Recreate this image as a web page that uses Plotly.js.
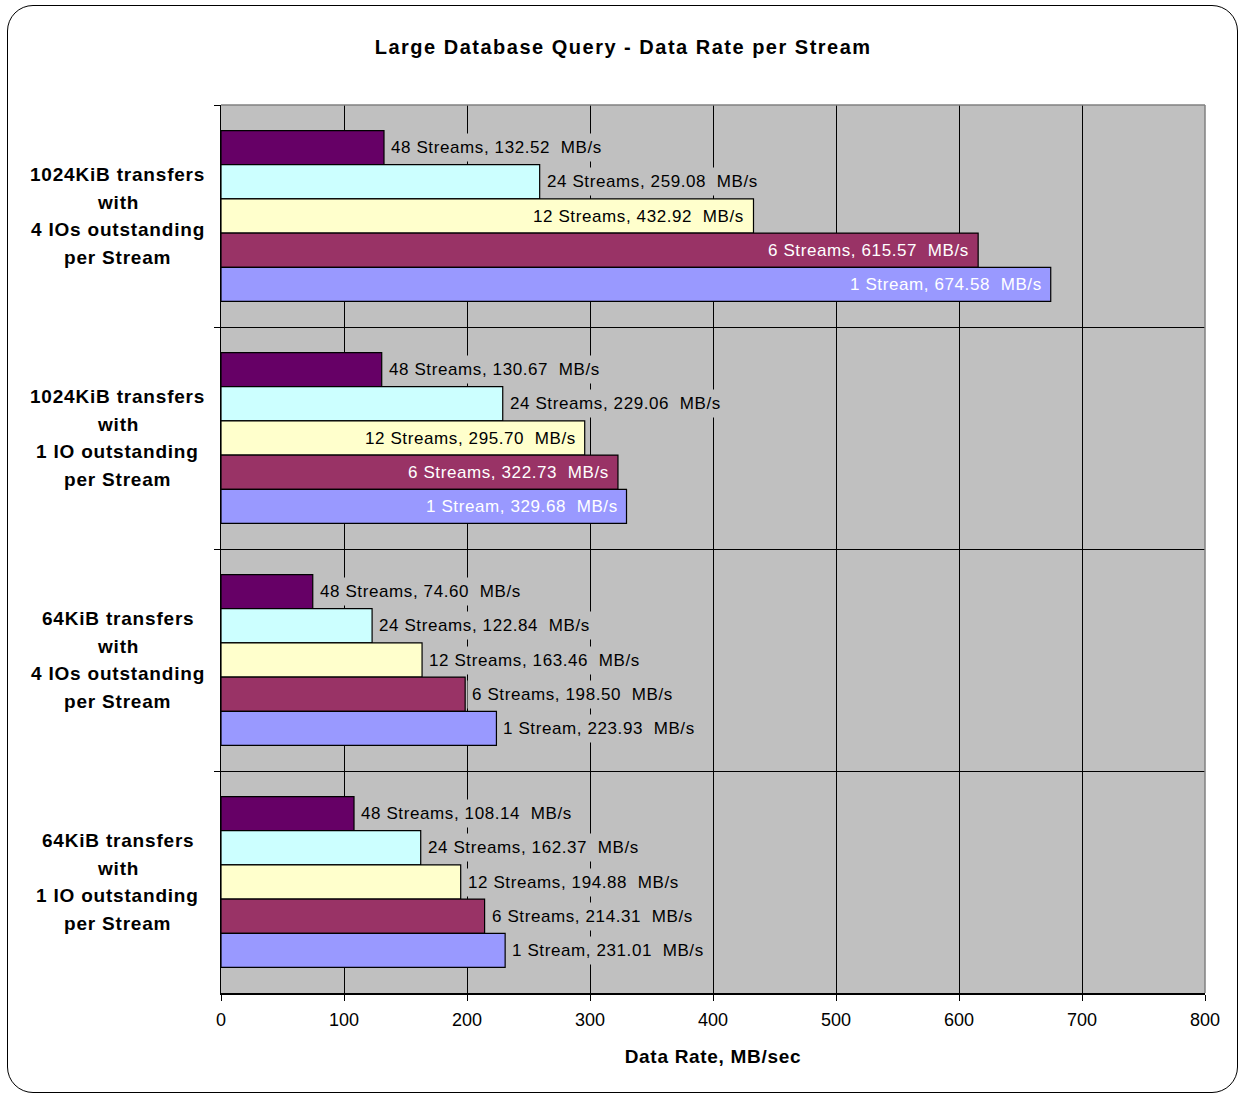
<!DOCTYPE html>
<html>
<head>
<meta charset="utf-8">
<script src="https://cdn.plot.ly/plotly-3.0.1.min.js"></script>
<style>
  html, body { margin: 0; padding: 0; background: #fff; }
  #wrap { position: relative; width: 1239px; height: 1095px; }
  #chart { position: absolute; left: 0; top: 0; width: 1239px; height: 1095px; }
  #frame { position: absolute; left: 7px; top: 5px; width: 1229px; height: 1086px;
           border: 1.5px solid #000; border-radius: 26px; pointer-events: none; }
</style>
</head>
<body>
<div id="wrap">
  <div id="chart"></div>
  <div id="frame"></div>
</div>
<script>
// ---- data ----
const categories = [
  "1024KiB transfers<br>with<br>4 IOs outstanding<br>per Stream",
  "1024KiB transfers<br>with<br>1 IO outstanding<br>per Stream",
  "64KiB transfers<br>with<br>4 IOs outstanding<br>per Stream",
  "64KiB transfers<br>with<br>1 IO outstanding<br>per Stream"
];
const seriesNames = ["48 Streams", "24 Streams", "12 Streams", "6 Streams", "1 Stream"];
const streams48 = [132.52, 130.67, 74.60, 108.14];
const streams24 = [259.08, 229.06, 122.84, 162.37];
const streams12 = [432.92, 295.70, 163.46, 194.88];
const streams6  = [615.57, 322.73, 198.50, 214.31];
const streams1  = [674.58, 329.68, 223.93, 231.01];
const xTicks = [0, 100, 200, 300, 400, 500, 600, 700, 800];

// ---- styles ----
const seriesValues = [streams48, streams24, streams12, streams6, streams1];
const seriesColors = ["#660066", "#CCFFFF", "#FFFFCC", "#993366", "#9999FF"];
const insideTextColors = ["#000", "#000", "#000", "#fff", "#fff"];
const FONT = "Liberation Sans, Arial, sans-serif";
const BARGAP = 0.23;
const nS = seriesNames.length;
const catIdx = categories.map((_, i) => i);
const spaced = (t, px) => '<span style="letter-spacing:' + px + 'px">' + t + '</span>';

const traces = seriesValues.map((vals, i) => ({
  type: "bar",
  orientation: "h",
  name: seriesNames[i],
  x: vals,
  y: catIdx,
  marker: { color: seriesColors[i], line: { color: "#000", width: 1.2 } },
  hoverinfo: "x+name"
}));

const annotations = [];
const slot = (1 - BARGAP) / nS;
seriesValues.forEach((vals, i) => {
  vals.forEach((v, c) => {
    const txt = spaced(seriesNames[i] + ", " + v.toFixed(2) + "\u00a0\u00a0MB/s", 0.6);
    const yPos = c + (i - (nS - 1) / 2) * slot;
    if (v > 280) {
      annotations.push({
        x: v, y: yPos, xref: "x", yref: "y", text: txt, showarrow: false,
        xanchor: "right", yanchor: "middle", xshift: -7,
        font: { family: FONT, size: 17, color: insideTextColors[i] }
      });
    } else {
      annotations.push({
        x: v, y: yPos, xref: "x", yref: "y", text: txt, showarrow: false,
        xanchor: "left", yanchor: "middle", xshift: 2,
        bgcolor: "#C0C0C0", borderpad: 4,
        font: { family: FONT, size: 17, color: "#000" }
      });
    }
  });
});

categories.forEach((cat, c) => {
  const lines = cat.split("<br>");
  lines.forEach((ln, j) => {
    annotations.push({
      x: -0.105, y: c, xref: "paper", yref: "y", text: spaced(ln, 0.8), showarrow: false,
      xanchor: "center", yanchor: "middle",
      yshift: ((lines.length - 1) / 2 - j) * 27.5,
      font: { family: FONT, size: 19, color: "#000", weight: "bold" }
    });
  });
});

const layout = {
  width: 1239, height: 1095,
  margin: { l: 221, r: 34, t: 105, b: 102 },
  paper_bgcolor: "#fff",
  plot_bgcolor: "#C0C0C0",
  showlegend: false,
  barmode: "group",
  bargap: BARGAP,
  bargroupgap: 0,
  font: { family: FONT, color: "#000" },
  title: {
    text: spaced("Large Database Query - Data Rate per Stream", 1.5),
    font: { family: FONT, size: 20, color: "#000", weight: "bold" },
    x: 0.503, xref: "container", xanchor: "center",
    y: 1 - 47 / 1095, yref: "container", yanchor: "middle"
  },
  xaxis: {
    range: [0, 800],
    tickvals: xTicks,
    ticktext: xTicks.map(String),
    showgrid: true, gridcolor: "#000", gridwidth: 1,
    zeroline: false,
    showline: true, linecolor: "#000", linewidth: 1.5,
    ticks: "outside", ticklen: 6, tickcolor: "#000",
    ticklabelstandoff: 4,
    tickfont: { family: FONT, size: 18, color: "#000" },
    title: {
      text: spaced("Data Rate, MB/sec", 0.7),
      font: { family: FONT, size: 19, color: "#000", weight: "bold" },
      standoff: 20
    },
    fixedrange: true
  },
  yaxis: {
    type: "category",
    autorange: "reversed",
    tickson: "boundaries",
    showticklabels: false,
    showgrid: true, gridcolor: "#000", gridwidth: 1,
    zeroline: false,
    showline: true, linecolor: "#000", linewidth: 1.5,
    ticks: "outside", ticklen: 6, tickcolor: "#000",
    fixedrange: true
  },
  shapes: [
    { type: "line", xref: "paper", yref: "paper", x0: 0, x1: 1, y0: 1, y1: 1,
      line: { color: "#808080", width: 1.5 }, layer: "above" },
    { type: "line", xref: "paper", yref: "paper", x0: 1, x1: 1, y0: 0, y1: 1,
      line: { color: "#808080", width: 1.5 }, layer: "above" }
  ],
  annotations: annotations
};

Plotly.newPlot("chart", traces, layout, { displayModeBar: false, staticPlot: true });
</script>
</body>
</html>
